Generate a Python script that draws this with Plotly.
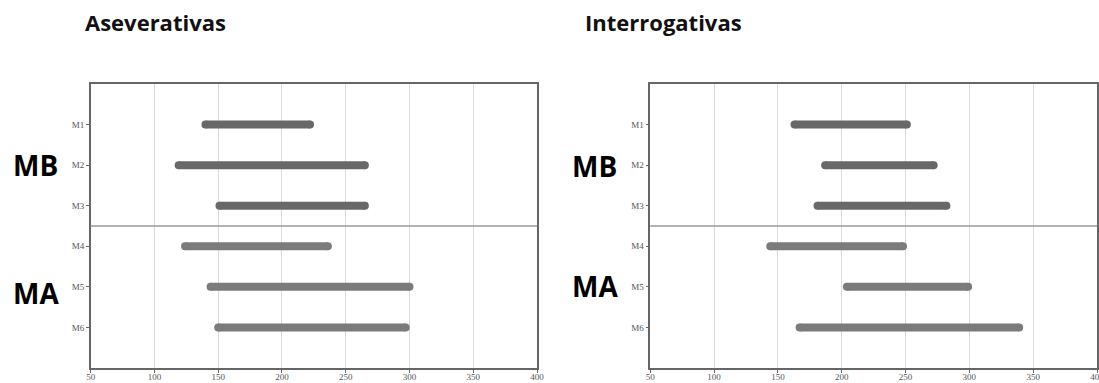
import plotly.graph_objects as go

# Range data (start, end) per model for each sentence type
models = ["M1", "M2", "M3", "M4", "M5", "M6"]
groups = ["MB", "MB", "MB", "MA", "MA", "MA"]

asev_start = [140, 119, 151, 124, 144, 150]
asev_end = [222, 265, 265, 236, 300, 297]

inter_start = [163, 187, 181, 144, 204, 167]
inter_end = [251, 272, 282, 248, 299, 339]

panel_titles = ["Aseverativas", "Interrogativas"]
x_ticks = [50, 100, 150, 200, 250, 300, 350, 400]

group_colors = {"MB": "#686868", "MA": "#7b7b7b"}

W, H = 1099, 383
x_domains = [[90.7 / W, 537 / W], [650.3 / W, 1097 / W]]
y_domain = [1 - 368 / H, 1 - 84 / H]

fig = go.Figure()

panels = [(asev_start, asev_end), (inter_start, inter_end)]
for p, (starts, ends) in enumerate(panels):
    xa = "x" if p == 0 else "x2"
    ya = "y" if p == 0 else "y2"
    for i, m in enumerate(models):
        c = group_colors[groups[i]]
        fig.add_trace(go.Scatter(
            x=[starts[i], ends[i]], y=[i + 1, i + 1],
            mode="lines+markers",
            line=dict(color=c, width=8),
            marker=dict(color=c, size=8, line=dict(width=0)),
            xaxis=xa, yaxis=ya, showlegend=False, hoverinfo="x+y",
        ))

tick_font = dict(family="Liberation Serif, DejaVu Serif, serif", size=9, color="#555")

axis_common = dict(
    showline=True, linecolor="#666", linewidth=1.5, mirror=True,
    ticks="outside", ticklen=3, tickcolor="#666", tickfont=tick_font,
    zeroline=False, automargin=False,
)

title_x = [83, 583]
group_label_x = [11, 570]
group_label_y = [{"MB": 165, "MA": 293}, {"MB": 166, "MA": 286}]

for p in range(2):
    suffix = "" if p == 0 else "2"
    fig.update_layout(**{
        "xaxis" + suffix: dict(
            domain=x_domains[p], range=[50, 400], tickvals=x_ticks,
            showgrid=True, gridcolor="#d9d9d9", gridwidth=1,
            ticklabelstandoff=-4, ticklabeloverflow="allow",
            anchor="y" + suffix, **axis_common,
        ),
        "yaxis" + suffix: dict(
            domain=y_domain, range=[7, 0], tickvals=list(range(1, 7)),
            ticktext=models, showgrid=False,
            anchor="x" + suffix, **axis_common,
        ),
    })
    # separator between MB and MA groups
    fig.add_shape(type="line", xref="x" + suffix + " domain", yref="y" + suffix,
                  x0=0, x1=1, y0=3.5, y1=3.5,
                  line=dict(color="#999", width=1.5))
    # panel title
    fig.add_annotation(
        text=panel_titles[p], xref="paper", yref="paper",
        x=title_x[p] / W, y=1 - 22 / H, xanchor="left", yanchor="middle",
        showarrow=False,
        font=dict(family="Open Sans", size=22, color="#111", weight="bold"),
    )
    # group labels
    for label, yc in group_label_y[p].items():
        fig.add_annotation(
            text=label, xref="paper", yref="paper",
            x=group_label_x[p] / W, y=1 - yc / H, xanchor="left", yanchor="middle",
            showarrow=False,
            font=dict(family="Open Sans", size=28, color="#000", weight="bold"),
        )

fig.update_layout(
    width=W, height=H,
    margin=dict(l=0, r=0, t=0, b=0),
    paper_bgcolor="white", plot_bgcolor="white",
)

fig.write_html("out.html")
